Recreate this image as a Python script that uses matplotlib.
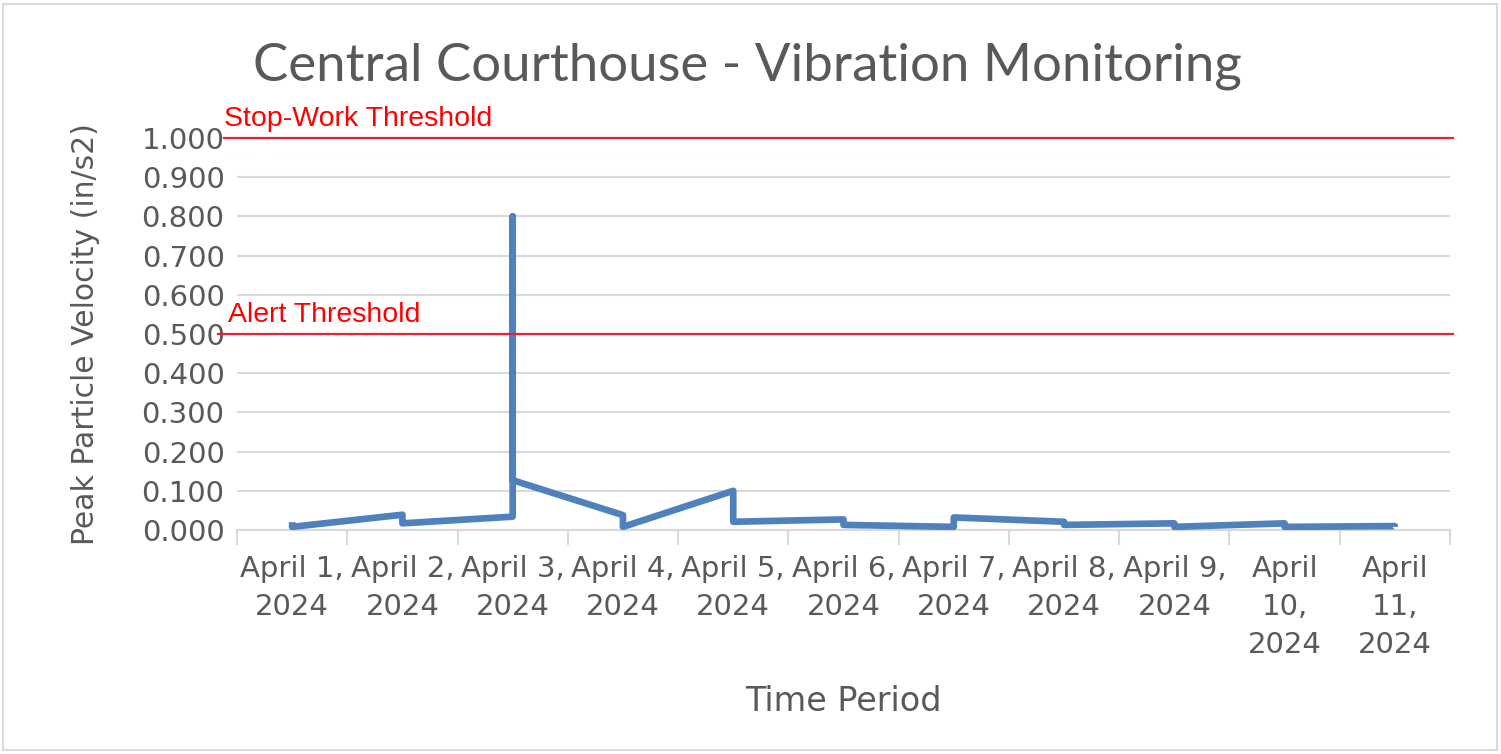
#!/usr/bin/env python3
"""Central Courthouse vibration monitoring: daily PPV readings vs. alert / stop-work thresholds."""
import matplotlib
matplotlib.use("Agg")
import matplotlib.pyplot as plt
from matplotlib.patches import Rectangle

# data (two readings per day, three on April 3)
days = ["April 1,\n2024", "April 2,\n2024", "April 3,\n2024", "April 4,\n2024",
        "April 5,\n2024", "April 6,\n2024", "April 7,\n2024", "April 8,\n2024",
        "April 9,\n2024", "April\n10,\n2024", "April\n11,\n2024"]
reading_day = [1, 1, 2, 2, 3, 3, 3, 4, 4, 5, 5, 6, 6, 7, 7, 8, 8, 9, 9, 10, 10, 11, 11]
ppv = [0.020, 0.008, 0.039, 0.017, 0.034, 0.800, 0.127, 0.038, 0.008, 0.100, 0.021,
       0.027, 0.013, 0.008, 0.032, 0.021, 0.013, 0.017, 0.008, 0.017, 0.008, 0.010, 0.008]
yticks = [0.0, 0.1, 0.2, 0.3, 0.4, 0.5, 0.6, 0.7, 0.8, 0.9, 1.0]
thresholds = {"Stop-Work Threshold": 1.0, "Alert Threshold": 0.5}

GREY = "#595959"
GRID = "#d9d9d9"
BLUE = "#4f81bd"
RED = "#e8223a"

fig = plt.figure(figsize=(15.01, 7.54), dpi=100)
ax = fig.add_axes([237 / 1501, 1 - 530 / 754, (1450 - 237) / 1501, (530 - 138) / 754])

ax.plot(reading_day, ppv, color=BLUE, lw=4.8, solid_joinstyle="round", solid_capstyle="butt", zorder=3)

ax.set_xlim(0.5, len(days) + 0.5)
ax.set_ylim(0, 1.0)
ax.set_yticks(yticks)
ax.set_yticklabels([f"{v:.3f}" for v in yticks])
ax.set_xticks(range(1, len(days) + 1))
ax.set_xticklabels(days, linespacing=1.45)
ax.set_xticks([i + 0.5 for i in range(len(days) + 1)], minor=True)

for s in ["top", "right", "left"]:
    ax.spines[s].set_visible(False)
ax.spines["bottom"].set_color(GRID)
ax.spines["bottom"].set_linewidth(1.5)
ax.grid(axis="y", color=GRID, lw=1.5, zorder=0)
ax.set_axisbelow(True)
ax.tick_params(axis="y", length=0, pad=9, labelsize=21, labelcolor=GREY)
ax.tick_params(axis="x", which="major", length=0, pad=18, labelsize=21, labelcolor=GREY)
ax.tick_params(axis="x", which="minor", length=11, width=1.5, color=GRID)

# threshold lines run a little past the left edge of the plot area
for (name, val), x0, xt in zip(thresholds.items(), [0.38, 0.33], [0.38, 0.42]):
    ax.plot([x0, 11.53], [val, val], color=RED, lw=1.6, clip_on=False, zorder=4)
    ax.text(xt, val + 0.016, name, color="#ff0000", fontsize=20.5, family="Liberation Sans",
            ha="left", va="bottom")

ax.set_ylabel("Peak Particle Velocity (in/s2)", color=GREY, fontsize=21.5, labelpad=30)
ax.set_xlabel("Time Period", color=GREY, fontsize=24, labelpad=19)
fig.text(0.498, 1 - 66 / 754, "Central Courthouse - Vibration Monitoring", color=GREY,
         fontsize=38, family="Lato", ha="center", va="center")

fig.patches.append(Rectangle((3 / 1501, 4 / 754), 1 - 7 / 1501, 1 - 8 / 754, transform=fig.transFigure,
                             fill=False, edgecolor=GRID, lw=1.5))

fig.savefig("out.png", dpi=100)
